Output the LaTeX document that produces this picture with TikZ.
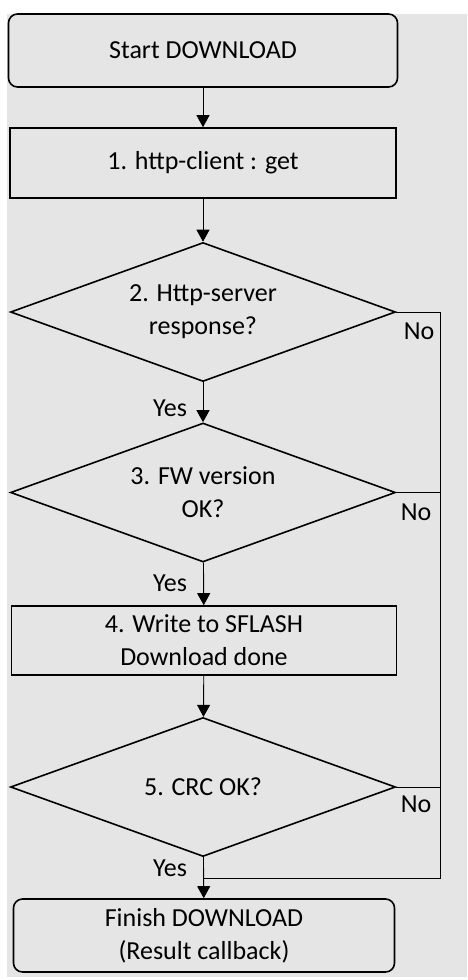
\documentclass[tikz,border=0pt]{standalone}
\usepackage{fontspec}
\setmainfont{Carlito}
\usepackage{tikz}
\usetikzlibrary{shapes.geometric,arrows.meta}
\tikzset{
	term/.style 2 args={draw,rounded corners=9pt,line width=1.6pt,minimum width=#1,minimum height=#2,inner sep=0pt,align=center},
	proc/.style 2 args={draw,line width=1.6pt,minimum width=#1,minimum height=#2,inner sep=0pt,align=center},
	decide/.style={draw,diamond,aspect=2.77,line width=1.6pt,minimum width=385pt,minimum height=139pt,inner sep=0pt,align=center},
	conn/.style={line width=0.9pt,-{Triangle[length=12pt,width=13pt]}},
	plain/.style={line width=0.9pt},
	lab/.style={inner sep=0pt}
}

\begin{document}
\begin{tikzpicture}[x=1pt,y=-1pt,font=\fontsize{26}{33}\selectfont]
					\useasboundingbox (0,0) rectangle (467,980);
					\fill[gray!20] (7,14) rectangle (467,977);

					\node [term={389pt}{73pt}] (start) at (203,50.5) {Start DOWNLOAD};
					\node [proc={386pt}{70pt}] (get) at (203,163) {1. http-client : get};
					\node [decide] (resp) at (203,312) {2. Http-server\\response?};
					\node [decide] (fw) at (203,492.5) {3. FW version\\OK?};
					\node [proc={385pt}{69pt}] (write) at (204,640.5) {4. Write to SFLASH\\Download done};
					\node [decide] (crc) at (203,787) {5. CRC OK?};
					\node [term={381pt}{73pt}] (finish) at (204,935.5) {Finish DOWNLOAD\\(Result callback)};

					\coordinate (rbot) at (440,878);
					\coordinate (join) at (204,878);

					\draw[conn] (start) -- (get);
					\draw[conn] (get) -- (resp);
					\draw[conn] (resp) -- (fw);
					\draw[conn] (fw) -- (write);
					\draw[conn] (write) -- (crc);
					\draw[conn] (crc) -- (finish);

					\draw[plain] (resp.east) -| (rbot) -- (join);
					\draw[plain] (fw.east) -- (fw.east -| rbot);
					\draw[plain] (crc.east) -- (crc.east -| rbot);

					\node [lab] (no1) at (419,331) {No};
					\node [lab] (no2) at (416,512) {No};
					\node [lab] (no3) at (416,804) {No};
					\node [lab] (yes1) at (170,408) {Yes};
					\node [lab] (yes2) at (170,583) {Yes};
					\node [lab] (yes3) at (170,868) {Yes};
				\end{tikzpicture}
\end{document}
